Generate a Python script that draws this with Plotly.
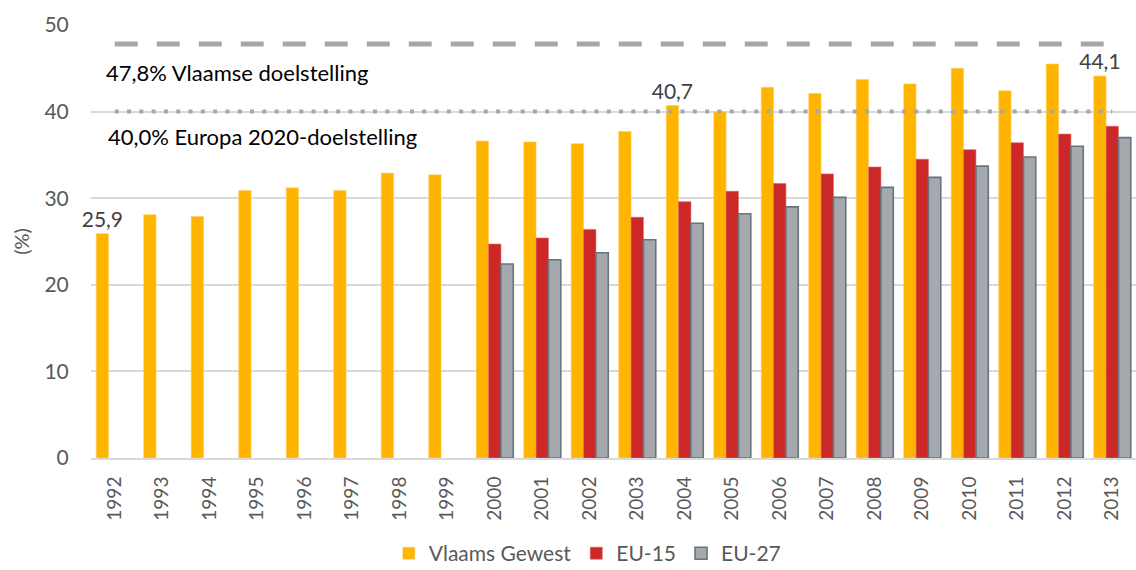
import plotly.graph_objects as go

years = [str(y) for y in range(1992, 2014)]
vlaams = [25.9, 28.1, 27.9, 30.9, 31.2, 30.9, 32.9, 32.7, 36.6, 36.5, 36.3, 37.7,
          40.7, 40.0, 42.8, 42.1, 43.7, 43.2, 45.0, 42.4, 45.5, 44.1]
eu15 = [None] * 8 + [24.7, 25.4, 26.4, 27.8, 29.6, 30.8, 31.7, 32.8, 33.6, 34.5,
                     35.6, 36.4, 37.4, 38.3]
eu27 = [None] * 8 + [22.4, 22.9, 23.7, 25.2, 27.1, 28.2, 29.0, 30.1, 31.25, 32.4,
                     33.7, 34.75, 36.0, 37.0]
vlaams_labels = ["25,9"] + [""] * 11 + ["40,7"] + [""] * 8 + ["44,1"]
target_vl = [47.8] * len(years)
target_eu = [40.0] * len(years)
target_vl_text = "47,8% Vlaamse doelstelling"
target_eu_text = "40,0% Europa 2020-doelstelling"

FONT = "Lato"
GREY_TXT = "#595959"

fig = go.Figure()
fig.add_trace(go.Bar(
    x=years, y=vlaams, name="Vlaams Gewest",
    marker=dict(color="#FFB400", line=dict(color="#FFD060", width=0.6)),
    text=vlaams_labels, textposition="outside", cliponaxis=False, constraintext="none",
    textfont=dict(family=FONT, size=21, color="#404040"),
))
fig.add_trace(go.Bar(
    x=years, y=eu15, name="EU-15",
    marker=dict(color="#CC2828", line=dict(color="#E06060", width=0.6)),
))
fig.add_trace(go.Bar(
    x=years, y=eu27, name="EU-27",
    marker=dict(color="#A5A8AC", line=dict(color="#66757D", width=1.6)),
))
fig.add_trace(go.Scatter(
    x=years, y=target_vl, mode="lines", showlegend=False, hoverinfo="skip",
    line=dict(color="#A5A7AA", width=5, dash="23px,19px"),
))
fig.add_trace(go.Scatter(
    x=years, y=target_eu, mode="lines", showlegend=False, hoverinfo="skip",
    line=dict(color="#A5A7AA", width=4, dash="4px,8.3px"),
))

fig.add_annotation(x=0, y=target_vl[0], xref="x", yref="y", text=target_vl_text,
                   showarrow=False, xanchor="left", yanchor="middle", xshift=-11, yshift=-28,
                   font=dict(family=FONT, size=22, color="#000000"))
fig.add_annotation(x=0, y=target_eu[0], xref="x", yref="y", text=target_eu_text,
                   showarrow=False, xanchor="left", yanchor="middle", xshift=-9, yshift=-25,
                   font=dict(family=FONT, size=22, color="#000000"))

fig.update_layout(
    width=1136, height=570,
    margin=dict(l=91, r=0, t=25, b=112, autoexpand=False),
    paper_bgcolor="white", plot_bgcolor="white",
    barmode="group", bargap=0.22, bargroupgap=0,
    font=dict(family=FONT, color=GREY_TXT),
    legend=dict(orientation="h", x=0.285, xanchor="left", y=-0.268, yanchor="bottom",
                font=dict(family=FONT, size=21, color=GREY_TXT),
                itemwidth=30, traceorder="normal"),
    xaxis=dict(type="category", range=[-0.5, 21.5], tickangle=-90, automargin=False,
               tickfont=dict(family=FONT, size=19, color=GREY_TXT),
               ticks="outside", ticklen=9, tickcolor="rgba(0,0,0,0)",
               showgrid=False, showline=True, linecolor="#D9D9D9", linewidth=2,
               fixedrange=True),
    yaxis=dict(range=[0, 50], dtick=10, showgrid=True, gridcolor="#D9D9D9", gridwidth=1.5,
               zeroline=False, showline=False, automargin=False,
               ticks="outside", ticklen=17, tickcolor="rgba(0,0,0,0)",
               tickfont=dict(family=FONT, size=21, color=GREY_TXT),
               title=dict(text="(%)", font=dict(family=FONT, size=20, color=GREY_TXT), standoff=9)),
)

fig.write_html(
    "out.html",
    config={"displayModeBar": False},
    post_script="document.body.style.margin='0';document.body.style.overflow='hidden';",
)
